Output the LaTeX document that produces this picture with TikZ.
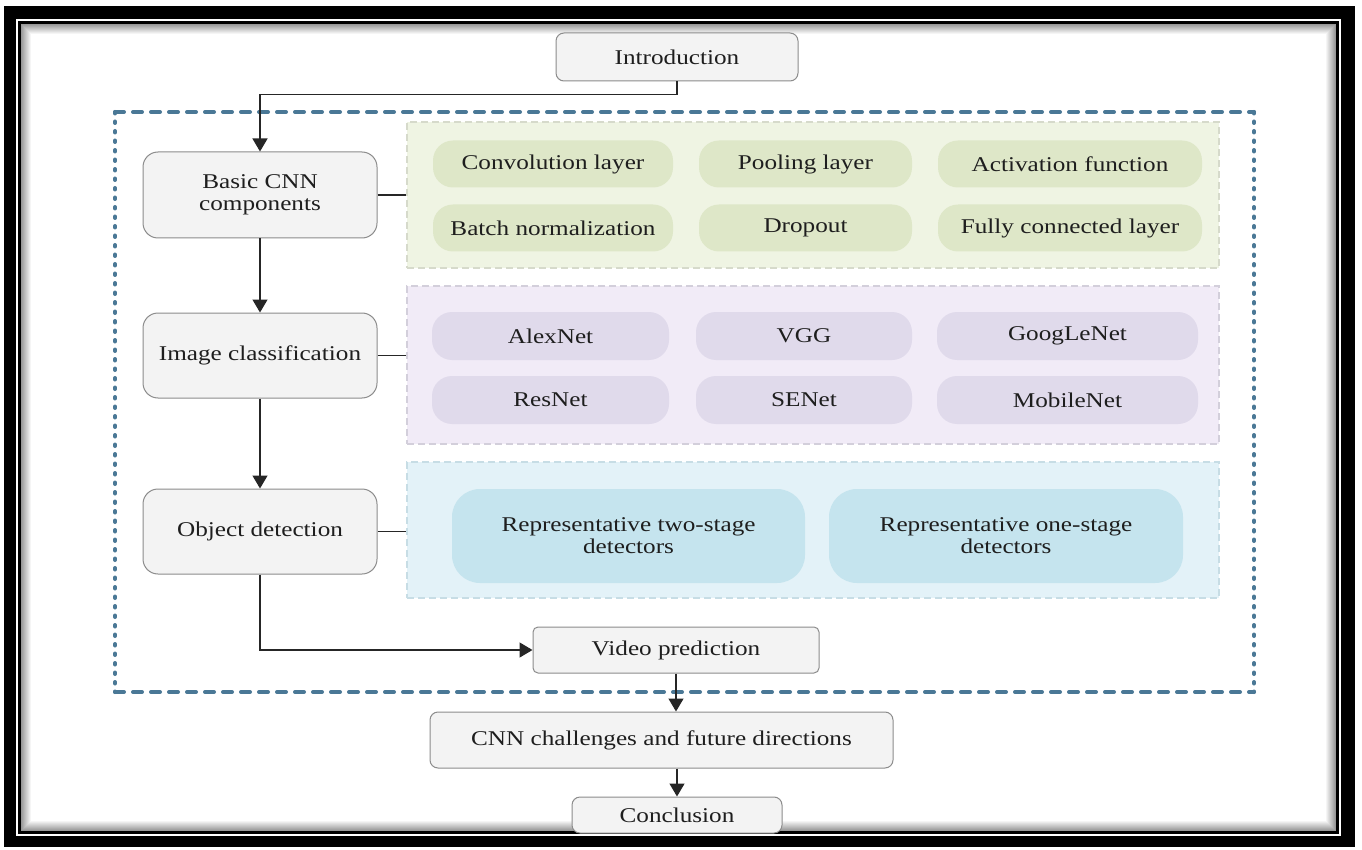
\documentclass[tikz,border=0pt]{standalone}
\usepackage{fontspec}
\setmainfont{Liberation Serif}[FakeStretch=1.2]
\usetikzlibrary{arrows.meta}

\definecolor{txt}{HTML}{1E1E1E}
\definecolor{grayfill}{HTML}{F3F3F3}
\definecolor{grayline}{HTML}{8C8C8C}
\definecolor{outerblue}{HTML}{4A7896}
\definecolor{greenpanel}{HTML}{EFF4E3}
\definecolor{greenpill}{HTML}{DEE7C8}
\definecolor{greenedge}{HTML}{D6DACB}
\definecolor{purplepanel}{HTML}{F1EBF7}
\definecolor{purplepill}{HTML}{E0DAEB}
\definecolor{purpleedge}{HTML}{D3CFDB}
\definecolor{bluepanel}{HTML}{E3F2F8}
\definecolor{bluepill}{HTML}{C5E4EE}
\definecolor{blueedge}{HTML}{C7DDE5}

\tikzset{
  every node/.style={font=\fontsize{21}{22}\selectfont, text=txt, inner sep=0pt},
  graybox/.style={draw=grayline, line width=1pt, fill=grayfill, rounded corners=#1, align=center},
  graybox/.default=8pt,
  panel/.style={fill=#1panel, draw=#1edge, line width=2pt, dash pattern=on 7pt off 4pt},
  pill/.style={fill=#1pill, rounded corners=20pt, align=center},
  link/.style={draw=black!85, line width=1.4pt},
  arr/.style={link, -{Triangle[length=13pt,width=15pt]}},
}

\begin{document}
\begin{tikzpicture}[x=1pt,y=-1pt]
  % page and double black frame
  \fill[white] (0,0) rectangle (1362,850);
  \useasboundingbox (0,0) rectangle (1362,850);
  \fill[black] (4,6) rectangle (1355,847);
  \fill[white] (16,19) rectangle (1341,836);
  \fill[black] (18,21) rectangle (1339,834);
  \fill[white] (21,24) rectangle (1336,831);
  % soft inner shadow of the frame
  \foreach \i in {0,...,9}{
    \pgfmathsetmacro{\shade}{40-4*\i}
    \draw[line width=1pt, black!\shade] (21.5+\i,24.5+\i) rectangle (1335.5-\i,830.5-\i);
  }

  % outer dashed region
  \draw[outerblue, line width=4pt, line cap=round, dash pattern=on 9pt off 9pt]
    (115,112) -- (1254,112) (115,692) -- (1254,692);
  \draw[outerblue, line width=4pt, line cap=round, dash pattern=on 1.5pt off 8pt]
    (115,112) -- (115,692) (1254,112) -- (1254,692);

  % main flow
  \node[graybox] (intro) at (677,57) [minimum width=242pt, minimum height=48pt] {Introduction};
  \node[graybox=15pt] (basic) at (260,195) [minimum width=234pt, minimum height=86pt] {Basic CNN\\components};
  \node[graybox=15pt] (imgcls) at (260,355.5) [minimum width=234pt, minimum height=85pt] {Image classification};
  \node[graybox=15pt] (objdet) at (260,531.5) [minimum width=234pt, minimum height=85pt] {Object detection};
  \node[graybox=5pt] (vp) at (676,650) [minimum width=286pt, minimum height=46pt] {Video prediction};
  \node[graybox] (cnn) at (661.5,740) [minimum width=463pt, minimum height=56pt] {CNN challenges and future directions};
  \node[graybox] (concl) at (677,815) [minimum width=210pt, minimum height=36pt] {Conclusion};

  % component panels
  \node[panel=green] (gpanel) at (813,195) [minimum width=812pt, minimum height=146pt] {};
  \node[panel=purple] (ppanel) at (813,365) [minimum width=812pt, minimum height=158pt] {};
  \node[panel=blue] (bpanel) at (813,530) [minimum width=812pt, minimum height=136pt] {};

  \node[pill=green] (conv) at (553,164) [minimum width=240pt, minimum height=47pt] {Convolution layer};
  \node[pill=green] (pool) at (805.5,164) [minimum width=213pt, minimum height=47pt] {Pooling layer};
  \node[pill=green] (act)  at (1070,164) [minimum width=264pt, minimum height=47pt] {Activation function};
  \node[pill=green] (bn)   at (553,228) [minimum width=240pt, minimum height=47pt] {Batch normalization};
  \node[pill=green] (drop) at (805.5,228) [minimum width=213pt, minimum height=47pt] {Dropout};
  \node[pill=green] (fc)   at (1070,228) [minimum width=264pt, minimum height=47pt] {Fully connected layer};

  \node[pill=purple] (alex)   at (550.5,336) [minimum width=237pt, minimum height=48pt] {AlexNet};
  \node[pill=purple] (vgg)    at (804,336) [minimum width=216pt, minimum height=48pt] {VGG};
  \node[pill=purple] (goog)   at (1067.5,336) [minimum width=261pt, minimum height=48pt] {GoogLeNet};
  \node[pill=purple] (res)    at (550.5,400) [minimum width=237pt, minimum height=48pt] {ResNet};
  \node[pill=purple] (se)     at (804,400) [minimum width=216pt, minimum height=48pt] {SENet};
  \node[pill=purple] (mobile) at (1067.5,400) [minimum width=261pt, minimum height=48pt] {MobileNet};

  \node[pill=blue, rounded corners=28pt] (two) at (628.5,536) [minimum width=353pt, minimum height=94pt] {Representative two-stage\\detectors};
  \node[pill=blue, rounded corners=28pt] (one) at (1006,536) [minimum width=354pt, minimum height=94pt] {Representative one-stage\\detectors};

  % connectors
  \draw[arr] (intro.south) -- ++(0,13) -| (basic.north);
  \draw[arr] (basic.south) -- (imgcls.north);
  \draw[arr] (imgcls.south) -- (objdet.north);
  \draw[arr] (objdet.south) |- (vp.west);
  \draw[arr] (vp.south) -- (vp.south |- cnn.north);
  \draw[arr] (concl.north |- cnn.south) -- (concl.north);
  \draw[link] (basic.east) -- (basic.east -| gpanel.west);
  \draw[link] (imgcls.east) -- (imgcls.east -| ppanel.west);
  \draw[link] (objdet.east) -- (objdet.east -| bpanel.west);
\end{tikzpicture}
\end{document}
